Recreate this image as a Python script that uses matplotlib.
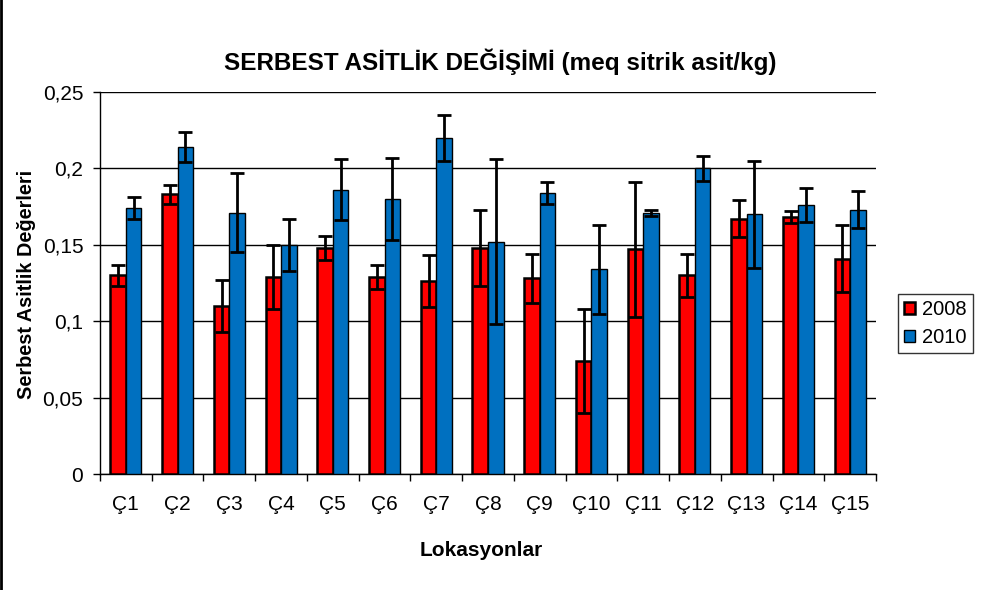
import numpy as np
import matplotlib
matplotlib.use("Agg")
import matplotlib.pyplot as plt
from matplotlib.lines import Line2D

plt.rcParams['font.family'] = ['Liberation Sans', 'DejaVu Sans']

# lokasyonlar ve degerler
lokasyon = ['Ç1', 'Ç2', 'Ç3', 'Ç4', 'Ç5', 'Ç6', 'Ç7', 'Ç8', 'Ç9', 'Ç10',
            'Ç11', 'Ç12', 'Ç13', 'Ç14', 'Ç15']
y2008 = [0.130, 0.183, 0.110, 0.129, 0.148, 0.129, 0.126, 0.148, 0.128, 0.074,
         0.147, 0.130, 0.167, 0.168, 0.141]
err2008 = [0.007, 0.006, 0.017, 0.021, 0.008, 0.008, 0.017, 0.025, 0.016, 0.034,
           0.044, 0.014, 0.012, 0.004, 0.022]
y2010 = [0.174, 0.214, 0.171, 0.150, 0.186, 0.180, 0.220, 0.152, 0.184, 0.134,
         0.171, 0.200, 0.170, 0.176, 0.173]
err2010 = [0.007, 0.010, 0.026, 0.017, 0.020, 0.027, 0.015, 0.054, 0.007, 0.029,
           0.002, 0.008, 0.035, 0.011, 0.012]
yticks = [0, 0.05, 0.1, 0.15, 0.2, 0.25]
ytick_labels = ['0', '0,05', '0,1', '0,15', '0,2', '0,25']

fig = plt.figure(figsize=(9.83, 5.9), dpi=100)
ax = fig.add_axes([100/983, 1-474/590, 776/983, 382/590])

x = np.arange(len(lokasyon))
w = 0.3
ax.bar(x - w/2, y2008, w, color='#FF0000', edgecolor='black', linewidth=1.8,
       label='2008', zorder=3)
ax.bar(x + w/2, y2010, w, color='#0070C0', edgecolor='black', linewidth=1.0,
       label='2010', zorder=3)
ax.errorbar(x - w/2, y2008, yerr=err2008, fmt='none', ecolor='black',
            elinewidth=2, capsize=5, capthick=2, zorder=4)
ax.errorbar(x + w/2, y2010, yerr=err2010, fmt='none', ecolor='black',
            elinewidth=2, capsize=5, capthick=2, zorder=4)

ax.set_xlim(-0.5, len(lokasyon) - 0.5)
ax.set_ylim(0, 0.25)
ax.set_yticks(yticks)
ax.set_yticklabels(ytick_labels, fontsize=15)
ax.set_xticks(x)
ax.set_xticklabels(lokasyon, fontsize=15)
ax.set_xticks(np.arange(-0.5, len(lokasyon)), minor=True)
ax.tick_params(axis='x', which='major', length=0, pad=15)
ax.tick_params(axis='x', which='minor', length=5, width=1, direction='out')
ax.tick_params(axis='y', length=5, width=1, direction='out', pad=7)

ax.grid(axis='y', color='black', linewidth=1, zorder=0)
ax.spines['top'].set_visible(False)
ax.spines['right'].set_visible(False)
ax.spines['left'].set_linewidth(1)
ax.spines['bottom'].set_linewidth(1)

fig.text(500/983, 1-62/590, 'SERBEST ASİTLİK DEĞİŞİMİ (meq sitrik asit/kg)',
         ha='center', va='center', fontsize=17.5, fontweight='bold')
fig.text(27/983, 1-284/590, 'Serbest Asitlik Değerleri', rotation=90,
         ha='center', va='center', fontsize=14.3, fontweight='bold')
fig.text(481/983, 1-550/590, 'Lokasyonlar', ha='center', va='center',
         fontsize=15, fontweight='bold')

leg = fig.legend(loc='upper left', bbox_to_anchor=(898/983, 1-294/590),
                 fontsize=14.5, frameon=True, fancybox=False, edgecolor='black',
                 handlelength=0.55, handleheight=0.55, handletextpad=0.35,
                 borderpad=0.3, labelspacing=0.45, borderaxespad=0)
leg.get_frame().set_linewidth(1)

fig.add_artist(Line2D([0.001, 0.001], [0, 1], transform=fig.transFigure,
                      color='black', linewidth=2))

fig.savefig('out.png', dpi=100)
